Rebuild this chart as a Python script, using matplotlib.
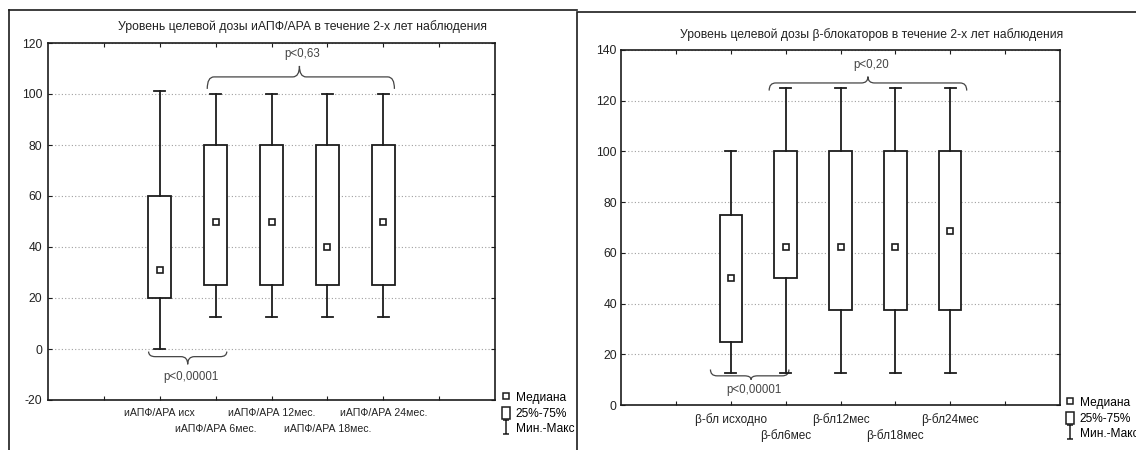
import matplotlib
matplotlib.use("Agg")
import matplotlib.pyplot as plt
from matplotlib.path import Path
from matplotlib.patches import PathPatch, Rectangle, Patch
from matplotlib.lines import Line2D

plt.rcParams['font.family'] = ['Liberation Sans', 'DejaVu Sans']
plt.rcParams['axes.unicode_minus'] = False

# левая панель: иАПФ/АРА
acei_title = "Уровень целевой дозы иАПФ/АРА в течение 2-х лет наблюдения"
acei_labels = ["иАПФ/АРА исх", "иАПФ/АРА 6мес.", "иАПФ/АРА 12мес.", "иАПФ/АРА 18мес.", "иАПФ/АРА 24мес."]
acei_min = [0, 12.5, 12.5, 12.5, 12.5]
acei_q1 = [20, 25, 25, 25, 25]
acei_med = [31, 50, 50, 40, 50]
acei_q3 = [60, 80, 80, 80, 80]
acei_max = [101, 100, 100, 100, 100]
acei_yticks = [-20, 0, 20, 40, 60, 80, 100, 120]

# правая панель: бета-блокаторы
bb_title = "Уровень целевой дозы β-блокаторов в течение 2-х лет наблюдения"
bb_labels = ["β-бл исходно", "β-бл6мес", "β-бл12мес", "β-бл18мес", "β-бл24мес"]
bb_min = [12.5, 12.5, 12.5, 12.5, 12.5]
bb_q1 = [25, 50, 37.5, 37.5, 37.5]
bb_med = [50, 62.5, 62.5, 62.5, 68.75]
bb_q3 = [75, 100, 100, 100, 100]
bb_max = [100, 125, 125, 125, 125]
bb_yticks = [0, 20, 40, 60, 80, 100, 120, 140]

# скобки с p: (x0, x1, x_tip, y_line, y_ends, y_tip, text, y_text)
acei_braces = [(2.85, 6.2, 4.5, 106.7, 102, 111, "p<0,63", 115.6),
               (1.8, 3.2, 2.5, -3, -1, -6, "p<0,00001", -11)]
bb_braces = [(2.7, 6.3, 4.5, 127, 124, 129.5, "p<0,20", 134),
             (1.63, 3.06, 2.37, 11.5, 14, 10, "p<0,00001", 6)]

legend_labels = ["Медиана", "25%-75%", "Мин.-Макс"]

W, H = 1136, 450
INK = "#1c1c1c"


def fx(px):
    return px / W


def fy(py):
    return 1 - py / H


# скобка
def draw_brace(ax, x0, x1, xm, yl, ye, yt, r=0.12):
    verts = [(x0, ye), (x0, yl), (x0 + r, yl), (xm - r, yl), (xm, yl), (xm, yt),
             (xm, yt), (xm, yl), (xm + r, yl), (x1 - r, yl), (x1, yl), (x1, ye)]
    codes = [Path.MOVETO, Path.CURVE3, Path.CURVE3, Path.LINETO, Path.CURVE3, Path.CURVE3,
             Path.MOVETO, Path.CURVE3, Path.CURVE3, Path.LINETO, Path.CURVE3, Path.CURVE3]
    ax.add_patch(PathPatch(Path(verts, codes), facecolor="none", edgecolor="#444", lw=0.9,
                           clip_on=False))


def draw_panel(ax, labels, mins, q1s, meds, q3s, maxs, yticks, braces, xfont):
    stats = []
    for i in range(len(labels)):
        stats.append(dict(med=meds[i], mean=meds[i], q1=q1s[i], q3=q3s[i],
                          whislo=mins[i], whishi=maxs[i], fliers=[]))
    pos = list(range(2, 2 + len(labels)))
    ax.bxp(stats, positions=pos, widths=0.41, capwidths=0.2, patch_artist=True,
           showmeans=True, showfliers=False, manage_ticks=False,
           boxprops=dict(facecolor="white", edgecolor=INK, lw=1.3),
           whiskerprops=dict(color=INK, lw=1.3),
           capprops=dict(color=INK, lw=1.3),
           medianprops=dict(linestyle="none"),
           meanprops=dict(marker="s", markersize=3.8, markerfacecolor="white",
                          markeredgecolor=INK, markeredgewidth=1.2))
    ax.set_xlim(0, 8)
    ax.set_ylim(yticks[0], yticks[-1])
    ax.set_yticks(yticks)
    ax.set_xticks(range(1, 8))
    ax.set_xticklabels([""] + labels + [""], fontsize=xfont, color="#222")
    ticks = ax.xaxis.get_major_ticks()
    for i in range(1, 1 + len(labels)):
        ticks[i].set_pad(5.5 if i % 2 == 1 else 17)
    ax.tick_params(axis="both", direction="in", length=3, width=0.8, top=True, right=True,
                   color=INK)
    ax.tick_params(axis="y", labelsize=8.7, pad=4, labelcolor="#222")
    ax.grid(axis="y", linestyle=(0, (1, 2)), color="#a0a0a0", lw=0.8)
    ax.set_axisbelow(True)
    for s in ax.spines.values():
        s.set_color(INK)
        s.set_linewidth(1.2)
    for x0, x1, xm, yl, ye, yt, txt, ytxt in braces:
        draw_brace(ax, x0, x1, xm, yl, ye, yt)
        ax.text(xm + 0.05, ytxt, txt, ha="center", va="center", fontsize=8.3, color="#444")


def add_legend(ax, x, y):
    bar = Path([(-0.5, -1), (0.5, -1), (0, -1), (0, 1), (-0.5, 1), (0.5, 1)],
               [Path.MOVETO, Path.LINETO, Path.MOVETO, Path.LINETO, Path.MOVETO, Path.LINETO])
    handles = [Line2D([], [], ls="", marker="s", markersize=4, mfc="white", mec=INK, mew=1.1),
               Patch(facecolor="white", edgecolor=INK, lw=1.1),
               Line2D([], [], ls="", marker=bar, markersize=10, mec=INK, mew=1.1)]
    ax.legend(handles, legend_labels, loc="upper left", bbox_to_anchor=(fx(x), fy(y)),
              bbox_transform=ax.figure.transFigure, frameon=False, fontsize=8.6,
              handlelength=0.7, handleheight=1.2, handletextpad=0.45, borderpad=0,
              borderaxespad=0, labelspacing=0.2)


fig = plt.figure(figsize=(W / 100, H / 100), dpi=100)

ax1 = fig.add_axes([fx(48), fy(400), fx(495) - fx(48), fy(43) - fy(400)], zorder=0)
draw_panel(ax1, acei_labels, acei_min, acei_q1, acei_med, acei_q3, acei_max,
           acei_yticks, acei_braces, 7.6)
add_legend(ax1, 502, 391)
fig.text(fx(303), fy(27), acei_title, ha="center", va="center", fontsize=8.8, color="#222")

# рамка левой панели
fig.add_artist(Line2D([fx(9), fx(577)], [fy(10), fy(10)], color=INK, lw=1.2))
fig.add_artist(Line2D([fx(9), fx(9)], [fy(10), 0], color=INK, lw=1.2))

# правая панель поверх левой (обрезает легенду)
fig.add_artist(Rectangle((fx(577), -0.05), 1 - fx(577) + 0.05, fy(12) + 0.05,
                         facecolor="white", edgecolor=INK, lw=1.2, zorder=1))

ax2 = fig.add_axes([fx(621), fy(405), fx(1060) - fx(621), fy(50) - fy(405)], zorder=2)
draw_panel(ax2, bb_labels, bb_min, bb_q1, bb_med, bb_q3, bb_max,
           bb_yticks, bb_braces, 8.5)
ax2.tick_params(axis="y", pad=3)
add_legend(ax2, 1066, 396)
fig.text(fx(872), fy(35), bb_title, ha="center", va="center", fontsize=8.7, color="#222",
         zorder=3)

fig.savefig("out.png", dpi=100)
